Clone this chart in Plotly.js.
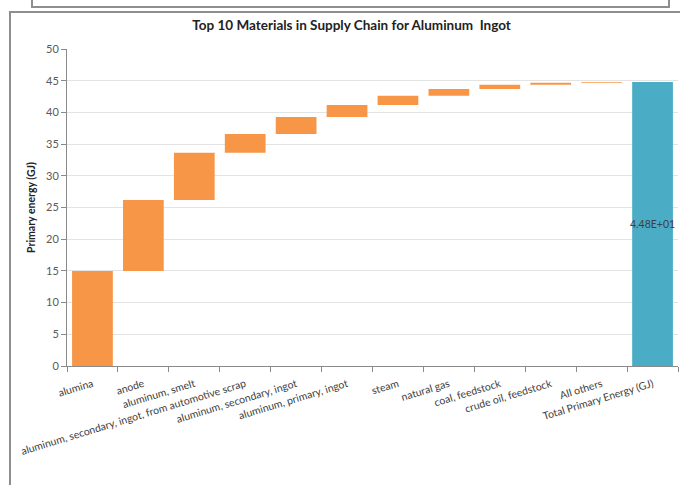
<!DOCTYPE html>
<html>
<head>
<meta charset="utf-8">
<script src="https://cdn.plot.ly/plotly-3.0.1.min.js"></script>
<style>
  html, body { margin: 0; padding: 0; background: #ffffff; overflow: hidden; }
  #wrap { position: relative; width: 680px; height: 485px; }
  #chart { position: absolute; left: 0; top: 0; width: 680px; height: 485px; }
  .frame { position: absolute; pointer-events: none; border: 2px solid #8e8e8e; box-sizing: border-box; }
</style>
</head>
<body>
<div id="wrap">
  <div id="chart"></div>
  <div class="frame" style="left:31px; top:-4px; width:639px; height:12px;"></div>
  <div class="frame" style="left:9px; top:11px; width:690px; height:500px;"></div>
</div>
<script>
// Data
var categories = [
  "alumina",
  "anode",
  "aluminum, smelt",
  "aluminum, secondary, ingot, from automotive scrap",
  "aluminum, secondary, ingot",
  "aluminum, primary, ingot",
  "steam",
  "natural gas",
  "coal, feedstock",
  "crude oil, feedstock",
  "All others",
  "Total Primary Energy (GJ)"
];
var contributions = [15.0, 11.2, 7.45, 2.95, 2.67, 1.9, 1.46, 1.06, 0.66, 0.31, 0.14, 0];
var measures = ["relative","relative","relative","relative","relative","relative",
                "relative","relative","relative","relative","relative","total"];

function sciLabel(v) {
  var s = v.toExponential(2).toUpperCase();
  return s.replace(/E([+-])(\d)$/, "E$10$2");
}
var total = contributions.reduce(function (a, b) { return a + b; }, 0);
var barLabels = measures.map(function (m) { return m === "total" ? sciLabel(total) : ""; });

var trace = {
  type: "waterfall",
  x: categories,
  y: contributions,
  measure: measures,
  text: barLabels,
  textposition: "inside",
  insidetextanchor: "middle",
  textangle: 0,
  constraintext: "none",
  textfont: { family: "Lato, 'Liberation Sans', sans-serif", size: 10.5, color: "#404040" },
  connector: { visible: false },
  increasing: { marker: { color: "#F79646" } },
  decreasing: { marker: { color: "#F79646" } },
  totals: { marker: { color: "#4BACC6" } },
  hoverinfo: "none",
  cliponaxis: false
};

var layout = {
  width: 680,
  height: 485,
  margin: { l: 67, r: 2, t: 49, b: 119 },
  paper_bgcolor: "rgba(0,0,0,0)",
  plot_bgcolor: "#ffffff",
  showlegend: false,
  bargap: 0.35,
  font: { family: "Lato, 'Liberation Sans', sans-serif", color: "#595959" },
  title: {
    text: "<b>Top 10 Materials in Supply Chain for Aluminum  Ingot</b>",
    font: { family: "Lato, 'Liberation Sans', sans-serif", size: 13.5, color: "#222222" },
    x: 0.517, xanchor: "center",
    y: 0.948, yanchor: "middle"
  },
  xaxis: {
    type: "category",
    tickangle: -17,
    tickfont: { size: 10.5, color: "#404040" },
    ticklabelstandoff: 7,
    showline: true,
    linecolor: "#8a8a8a",
    linewidth: 1,
    ticks: "outside",
    tickson: "boundaries",
    ticklen: 5,
    tickcolor: "#8a8a8a",
    showgrid: false,
    automargin: false
  },
  yaxis: {
    range: [0, 50],
    dtick: 5,
    tick0: 0,
    showgrid: true,
    gridcolor: "#e3e3e3",
    gridwidth: 1,
    zeroline: false,
    showline: true,
    linecolor: "#8a8a8a",
    linewidth: 1,
    ticks: "outside",
    ticklen: 5,
    tickcolor: "#8a8a8a",
    tickfont: { size: 11, color: "#595959" },
    title: {
      text: "<b>Primary energy (GJ)</b>",
      font: { family: "Lato, 'Liberation Sans', sans-serif", size: 10.5, color: "#222222" },
      standoff: 8
    },
    automargin: false
  }
};

Plotly.newPlot("chart", [trace], layout, { displayModeBar: false, staticPlot: true });
</script>
</body>
</html>
